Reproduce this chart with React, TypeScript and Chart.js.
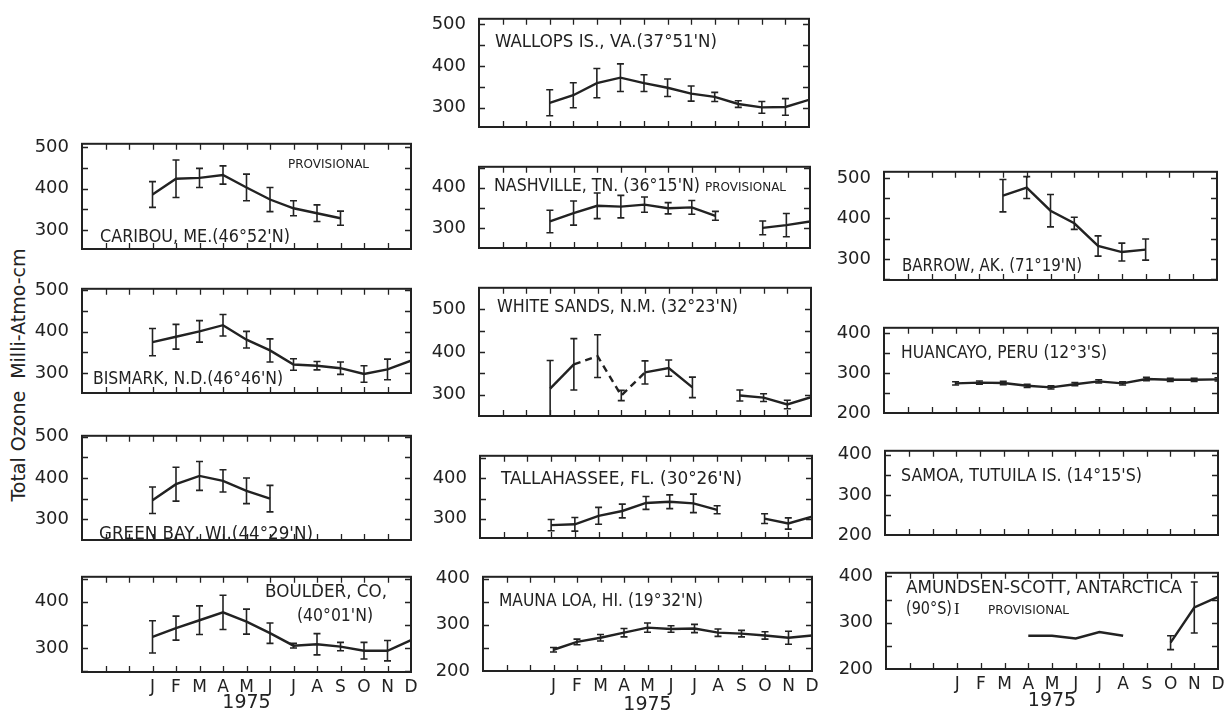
import React, { useEffect, useRef } from 'react';
import { Chart, registerables } from 'chart.js';

Chart.register(...registerables);

// ---- axis categories & tick labels ----
const MONTHS = ['J', 'F', 'M', 'A', 'M', 'J', 'J', 'A', 'S', 'O', 'N', 'D'];
const X_TICKS = [-3, -2, -1, 0, 1, 2, 3, 4, 5, 6, 7, 8, 9, 10, 11];
const YEAR = '1975';
const Y_TICKS_HIGH = [300, 400, 500];
const Y_TICKS_MID = [300, 400];
const Y_TICKS_LOW = [200, 300, 400];
const Y_TITLE = 'Total Ozone  Milli-Atmo-cm';

// ---- monthly mean total ozone (m-atm-cm), Jan..Dec 1975, with error bars ----
const CARIBOU = [386, 424, 426, 433, 403, 374, 353, 341, 329, null, null, null];
const CARIBOU_ERR = [31, 45, 23, 22, 32, 29, 18, 20, 17, null, null, null];
const BISMARK = [375, 388, 401, 416, 381, 355, 321, 318, 312, 298, 309, 330];
const BISMARK_ERR = [33, 30, 26, 26, 20, 28, 14, 10, 15, 20, 25, null];
const GREEN_BAY = [346, 385, 405, 393, 369, 350, null, null, null, null, null, null];
const GREEN_BAY_ERR = [32, 41, 35, 27, 31, 32, null, null, null, null, null, null];
const BOULDER = [324, 343, 360, 377, 357, 332, 305, 308, 303, 294, 294, 317];
const BOULDER_ERR = [35, 26, 31, 37, 27, 22, 5, 23, 9, 18, 22, null];

const WALLOPS = [312, 330, 359, 372, 359, 348, 334, 326, 309, 301, 302, 319];
const WALLOPS_ERR = [31, 30, 35, 33, 20, 21, 18, 11, 8, 14, 20, null];
const NASHVILLE = [316, 337, 355, 353, 358, 349, 351, 330, null, 300, 307, 316];
const NASHVILLE_ERR = [28, 30, 32, 28, 19, 14, 17, 11, null, 17, 29, null];
const WHITE_SANDS = [314, 371, 390, 298, 352, 362, 317, null, 298, 293, 277, 294];
const WHITE_SANDS_ERR = [66, 60, 50, 12, 27, 19, 24, null, 13, 9, 10, null];
const WHITE_SANDS_DASHED = [1, 2, 3];
const TALLAHASSEE = [284, 286, 307, 319, 339, 342, 338, 322, null, 300, 288, 305];
const TALLAHASSEE_ERR = [14, 17, 21, 17, 16, 17, 23, 10, null, 12, 14, null];
const MAUNA_LOA = [246, 263, 272, 283, 294, 291, 292, 283, 281, 277, 272, 277];
const MAUNA_LOA_ERR = [5, 6, 7, 9, 10, 7, 9, 8, 7, 8, 14, null];

const BARROW = [null, null, 456, 476, 419, 388, 332, 317, 323, null, null, null];
const BARROW_ERR = [null, null, 40, 27, 40, 15, 25, 22, 26, null, null, null];
const HUANCAYO = [274, 276, 275, 268, 264, 272, 279, 274, 285, 283, 283, 284];
const HUANCAYO_ERR = [4, 4, 4, 4, 4, 4, 4, 4, 4, 4, 4, 4];
const SAMOA = [null, null, null, null, null, null, null, null, null, null, null, null];
const SAMOA_ERR = [null, null, null, null, null, null, null, null, null, null, null, null];
const AMUNDSEN = [null, null, null, 272, 272, 266, 280, 272, null, 257, 333, 356];
const AMUNDSEN_ERR = [null, null, null, null, null, null, null, null, null, 15, 55, null];

// ---- styling ----
const INK = '#222222';
const FONT = '"DejaVu Sans", "Liberation Sans", sans-serif';
const M_LEFT = 70;
const M_TOP = 12;
const M_RIGHT = 12;
const PAD_BOTTOM = 12;

type Label = { text: string; x: number; y: number; w?: number; size: number; serif?: boolean };
type PanelCfg = {
  values: (number | null)[];
  errors: (number | null)[];
  dashed?: number[];
  left: number; top: number; width: number; height: number;
  yMin: number; yMax: number; yTicks: number[];
  axisHeight?: number;
  labels: Label[];
};

const PANELS: PanelCfg[] = [
  // left column
  {
    values: CARIBOU, errors: CARIBOU_ERR, left: 82, top: 140, width: 329, height: 121,
    yMin: 255, yMax: 508, yTicks: Y_TICKS_HIGH,
    labels: [
      { text: 'PROVISIONAL', x: 288, y: 165, w: 96, size: 12 },
      { text: "CARIBOU, ME.(46°52'N)", x: 100, y: 238, w: 190, size: 17 },
    ],
  },
  {
    values: BISMARK, errors: BISMARK_ERR, left: 82, top: 285, width: 329, height: 120,
    yMin: 252, yMax: 504, yTicks: Y_TICKS_HIGH,
    labels: [{ text: "BISMARK, N.D.(46°46'N)", x: 93, y: 380, w: 190, size: 17 }],
  },
  {
    values: GREEN_BAY, errors: GREEN_BAY_ERR, left: 82, top: 432, width: 329, height: 120,
    yMin: 250, yMax: 502, yTicks: Y_TICKS_HIGH,
    labels: [{ text: "GREEN BAY, WI.(44°29'N)", x: 99, y: 535, w: 214, size: 17 }],
  },
  {
    values: BOULDER, errors: BOULDER_ERR, left: 82, top: 573, width: 329, height: 99,
    yMin: 248, yMax: 454, yTicks: Y_TICKS_MID, axisHeight: 42,
    labels: [
      { text: 'BOULDER, CO,', x: 265, y: 593, w: 122, size: 17 },
      { text: "(40°01'N)", x: 297, y: 617, w: 76, size: 17 },
    ],
  },
  // middle column
  {
    values: WALLOPS, errors: WALLOPS_ERR, left: 479, top: 15, width: 330, height: 124,
    yMin: 254, yMax: 513, yTicks: Y_TICKS_HIGH,
    labels: [{ text: "WALLOPS IS., VA.(37°51'N)", x: 495, y: 43, w: 222, size: 17 }],
  },
  {
    values: NASHVILLE, errors: NASHVILLE_ERR, left: 479, top: 163, width: 331, height: 97,
    yMin: 250, yMax: 452, yTicks: Y_TICKS_MID,
    labels: [
      { text: "NASHVILLE, TN. (36°15'N)", x: 494, y: 187, w: 206, size: 17 },
      { text: 'PROVISIONAL', x: 705, y: 188, w: 93, size: 12 },
    ],
  },
  {
    values: WHITE_SANDS, errors: WHITE_SANDS_ERR, dashed: WHITE_SANDS_DASHED,
    left: 479, top: 284, width: 332, height: 144,
    yMin: 250, yMax: 550, yTicks: Y_TICKS_HIGH,
    labels: [{ text: "WHITE SANDS, N.M. (32°23'N)", x: 497, y: 308, w: 241, size: 17 }],
  },
  {
    values: TALLAHASSEE, errors: TALLAHASSEE_ERR, left: 480, top: 452, width: 332, height: 98,
    yMin: 252, yMax: 456, yTicks: Y_TICKS_MID,
    labels: [{ text: "TALLAHASSEE, FL. (30°26'N)", x: 501, y: 480, w: 241, size: 17 }],
  },
  {
    values: MAUNA_LOA, errors: MAUNA_LOA_ERR, left: 483, top: 573, width: 329, height: 98,
    yMin: 200, yMax: 404, yTicks: Y_TICKS_LOW, axisHeight: 45,
    labels: [{ text: "MAUNA LOA, HI. (19°32'N)", x: 499, y: 602, w: 204, size: 17 }],
  },
  // right column
  {
    values: BARROW, errors: BARROW_ERR, left: 884, top: 168, width: 333, height: 124,
    yMin: 248, yMax: 515, yTicks: Y_TICKS_HIGH,
    labels: [{ text: "BARROW, AK. (71°19'N)", x: 902, y: 267, w: 180, size: 17 }],
  },
  {
    values: HUANCAYO, errors: HUANCAYO_ERR, left: 884, top: 324, width: 334, height: 101,
    yMin: 200, yMax: 413, yTicks: Y_TICKS_LOW,
    labels: [{ text: "HUANCAYO, PERU (12°3'S)", x: 901, y: 354, w: 206, size: 17 }],
  },
  {
    values: SAMOA, errors: SAMOA_ERR, left: 885, top: 447, width: 333, height: 100,
    yMin: 200, yMax: 410, yTicks: Y_TICKS_LOW,
    labels: [{ text: "SAMOA, TUTUILA IS. (14°15'S)", x: 901, y: 477, w: 241, size: 17 }],
  },
  {
    values: AMUNDSEN, errors: AMUNDSEN_ERR, left: 886, top: 569, width: 332, height: 100,
    yMin: 200, yMax: 408, yTicks: Y_TICKS_LOW, axisHeight: 43,
    labels: [
      { text: 'AMUNDSEN-SCOTT, ANTARCTICA', x: 906, y: 589, w: 276, size: 17 },
      { text: '(90°S)', x: 906, y: 610, w: 46, size: 17 },
      { text: 'I', x: 954, y: 610, size: 17, serif: true },
      { text: 'PROVISIONAL', x: 988, y: 611, w: 99, size: 12 },
    ],
  },
];

function Panel({ cfg }: { cfg: PanelCfg }) {
  const ref = useRef<HTMLCanvasElement>(null);
  const hasAxis = cfg.axisHeight !== undefined;
  const mb = hasAxis ? (cfg.axisHeight as number) : PAD_BOTTOM;
  const cw = M_LEFT + cfg.width + M_RIGHT;
  const ch = M_TOP + cfg.height + mb;
  const cl = cfg.left - M_LEFT;
  const ct = cfg.top - M_TOP;

  useEffect(() => {
    const canvas = ref.current;
    if (!canvas) return;

    // frame with inward ticks (months along x, every 50 units along y)
    const framePlugin = {
      id: 'frame',
      afterDatasetsDraw(chart: any) {
        const { ctx, chartArea: a, scales } = chart;
        const xs = scales.x;
        const ys = scales.y;
        ctx.save();
        ctx.strokeStyle = INK;
        ctx.lineWidth = 1.3;
        ctx.beginPath();
        for (let v = -2; v <= 10; v++) {
          const px = Math.round(xs.getPixelForValue(v)) + 0.5;
          ctx.moveTo(px, a.top);
          ctx.lineTo(px, a.top + 6);
          ctx.moveTo(px, a.bottom);
          ctx.lineTo(px, a.bottom - 6);
        }
        const start = Math.ceil((cfg.yMin + 1) / 50) * 50;
        for (let v = start; v < cfg.yMax - 1; v += 50) {
          const py = Math.round(ys.getPixelForValue(v)) + 0.5;
          ctx.moveTo(a.left, py);
          ctx.lineTo(a.left + 6, py);
          ctx.moveTo(a.right, py);
          ctx.lineTo(a.right - 6, py);
        }
        ctx.stroke();
        ctx.lineWidth = 2;
        ctx.strokeRect(a.left, a.top, a.right - a.left, a.bottom - a.top);
        ctx.restore();
      },
    };

    const errorPlugin = {
      id: 'errorBars',
      afterDatasetsDraw(chart: any) {
        const { ctx, chartArea: a, scales } = chart;
        ctx.save();
        ctx.beginPath();
        ctx.rect(a.left, a.top, a.right - a.left, a.bottom - a.top);
        ctx.clip();
        ctx.strokeStyle = INK;
        ctx.lineWidth = 1.6;
        ctx.beginPath();
        cfg.values.forEach((v, i) => {
          const e = cfg.errors[i];
          if (v === null || e === null || e === undefined) return;
          const px = scales.x.getPixelForValue(i);
          const hi = scales.y.getPixelForValue(v + e);
          const lo = scales.y.getPixelForValue(v - e);
          ctx.moveTo(px, hi);
          ctx.lineTo(px, lo);
          ctx.moveTo(px - 3.5, hi);
          ctx.lineTo(px + 3.5, hi);
          ctx.moveTo(px - 3.5, lo);
          ctx.lineTo(px + 3.5, lo);
        });
        ctx.stroke();
        ctx.restore();
      },
    };

    const labelPlugin = {
      id: 'stationLabels',
      afterDraw(chart: any) {
        const { ctx } = chart;
        ctx.save();
        ctx.fillStyle = INK;
        ctx.textAlign = 'left';
        ctx.textBaseline = 'middle';
        cfg.labels.forEach((l) => {
          ctx.font = l.serif
            ? `${l.size}px "Liberation Serif", "DejaVu Serif", serif`
            : `${l.size}px ${FONT}`;
          if (l.w) ctx.fillText(l.text, l.x - cl, l.y - ct, l.w);
          else ctx.fillText(l.text, l.x - cl, l.y - ct);
        });
        ctx.restore();
      },
    };

    const dashed = cfg.dashed || [];
    const chart = new Chart(canvas, {
      type: 'line',
      data: {
        datasets: [
          {
            data: cfg.values.map((v, i) => ({ x: i, y: v })) as any,
            borderColor: INK,
            borderWidth: 2.4,
            pointRadius: 0,
            tension: 0,
            spanGaps: false,
            segment: {
              borderDash: (c: any) => (dashed.includes(c.p0DataIndex) ? [7, 5] : undefined),
            },
          },
        ],
      },
      options: {
        responsive: false,
        animation: false,
        devicePixelRatio: 1,
        layout: { padding: { left: 0, top: M_TOP, right: M_RIGHT, bottom: hasAxis ? 0 : PAD_BOTTOM } },
        plugins: { legend: { display: false }, tooltip: { enabled: false } },
        scales: {
          x: {
            type: 'linear',
            min: -3,
            max: 11,
            display: hasAxis,
            grid: { display: false },
            border: { display: false },
            afterBuildTicks: (s: any) => {
              s.ticks = X_TICKS.map((v) => ({ value: v }));
            },
            afterFit: (s: any) => {
              s.height = mb;
            },
            ticks: {
              autoSkip: false,
              maxRotation: 0,
              padding: -3,
              color: INK,
              font: { family: FONT, size: 17 },
              callback: (v: any) => (v >= 0 ? MONTHS[v] : ''),
            },
            title: {
              display: true,
              text: YEAR,
              color: INK,
              font: { family: FONT, size: 19 },
              padding: { top: 0, bottom: 0 },
            },
          },
          y: {
            type: 'linear',
            min: cfg.yMin,
            max: cfg.yMax,
            grid: { display: false },
            border: { display: false },
            afterBuildTicks: (s: any) => {
              s.ticks = cfg.yTicks.map((v) => ({ value: v }));
            },
            afterFit: (s: any) => {
              s.width = M_LEFT;
            },
            ticks: {
              padding: 5,
              color: INK,
              font: { family: FONT, size: 18 },
              callback: (v: any) => String(v),
            },
          },
        },
      } as any,
      plugins: [framePlugin, errorPlugin, labelPlugin],
    });
    return () => chart.destroy();
  }, []);

  return (
    <canvas
      ref={ref}
      width={cw}
      height={ch}
      style={{ position: 'absolute', left: cl, top: ct, width: cw, height: ch }}
    />
  );
}

export default function App() {
  return (
    <div
      style={{
        position: 'absolute',
        left: 0,
        top: 0,
        width: 1229,
        height: 713,
        overflow: 'hidden',
        background: '#fff',
      }}
    >
      <div
        style={{
          position: 'absolute',
          left: 18 - 150,
          top: 375 - 12,
          width: 300,
          height: 24,
          lineHeight: '24px',
          textAlign: 'center',
          transform: 'rotate(-90deg)',
          fontFamily: FONT,
          fontSize: 19,
          color: INK,
          whiteSpace: 'pre',
        }}
      >
        {Y_TITLE}
      </div>
      {PANELS.map((p, i) => (
        <Panel key={i} cfg={p} />
      ))}
    </div>
  );
}
